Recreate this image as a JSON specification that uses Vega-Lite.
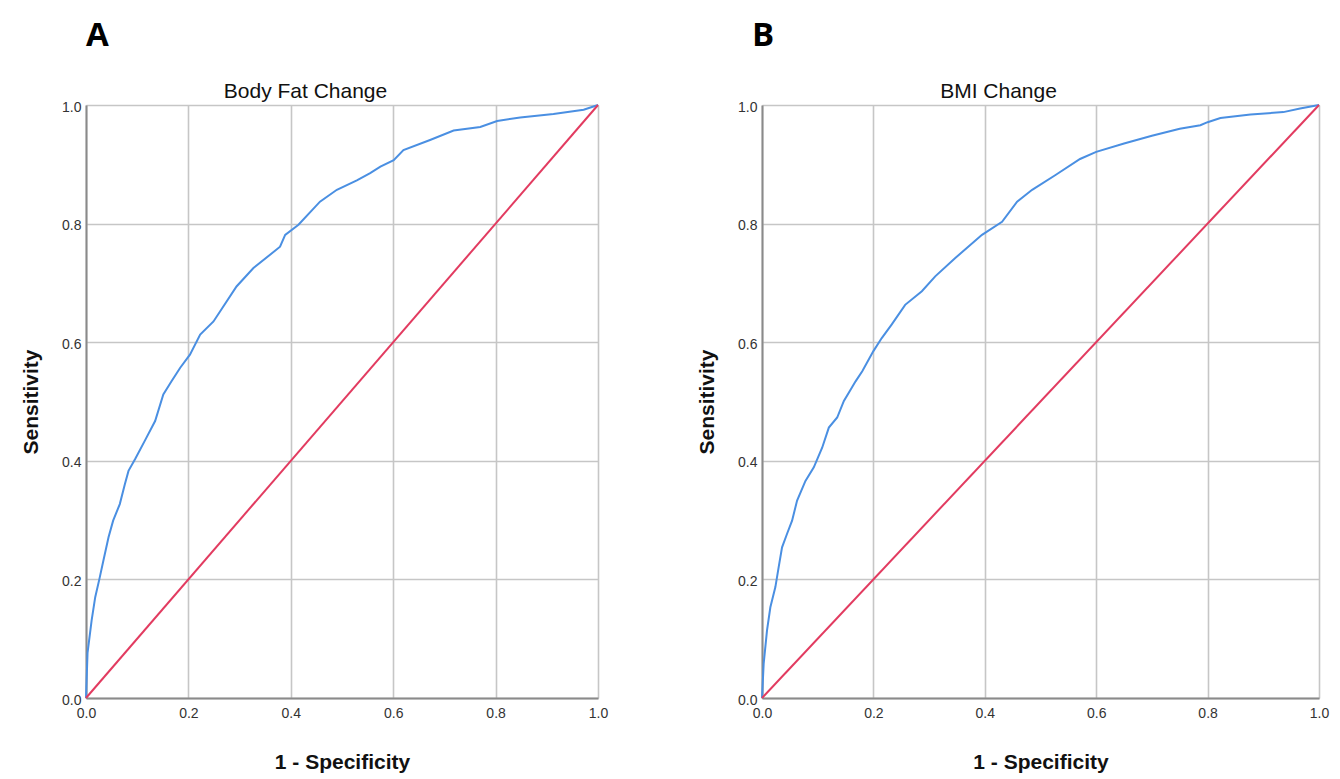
{
  "$schema": "https://vega.github.io/schema/vega-lite/v6.json",
  "background": "white",
  "padding": {"left": 20, "top": 20, "right": 10, "bottom": 5},
  "bounds": "flush",
  "spacing": 164,
  "datasets": {
    "rocA": [
      {"fpr": 0, "tpr": 0}, {"fpr": 0.003, "tpr": 0.076}, {"fpr": 0.011, "tpr": 0.131}, {"fpr": 0.018, "tpr": 0.17},
      {"fpr": 0.026, "tpr": 0.2}, {"fpr": 0.034, "tpr": 0.232}, {"fpr": 0.044, "tpr": 0.271}, {"fpr": 0.053, "tpr": 0.299},
      {"fpr": 0.066, "tpr": 0.327}, {"fpr": 0.076, "tpr": 0.361}, {"fpr": 0.083, "tpr": 0.383}, {"fpr": 0.096, "tpr": 0.403},
      {"fpr": 0.115, "tpr": 0.434}, {"fpr": 0.135, "tpr": 0.467}, {"fpr": 0.151, "tpr": 0.512}, {"fpr": 0.167, "tpr": 0.534},
      {"fpr": 0.184, "tpr": 0.557}, {"fpr": 0.203, "tpr": 0.579}, {"fpr": 0.223, "tpr": 0.613}, {"fpr": 0.249, "tpr": 0.635},
      {"fpr": 0.294, "tpr": 0.694}, {"fpr": 0.327, "tpr": 0.725}, {"fpr": 0.379, "tpr": 0.761}, {"fpr": 0.389, "tpr": 0.781},
      {"fpr": 0.415, "tpr": 0.798}, {"fpr": 0.457, "tpr": 0.837}, {"fpr": 0.49, "tpr": 0.857}, {"fpr": 0.529, "tpr": 0.873},
      {"fpr": 0.555, "tpr": 0.885}, {"fpr": 0.575, "tpr": 0.896}, {"fpr": 0.601, "tpr": 0.907}, {"fpr": 0.62, "tpr": 0.924},
      {"fpr": 0.672, "tpr": 0.941}, {"fpr": 0.718, "tpr": 0.957}, {"fpr": 0.77, "tpr": 0.963}, {"fpr": 0.803, "tpr": 0.973},
      {"fpr": 0.848, "tpr": 0.979}, {"fpr": 0.913, "tpr": 0.985}, {"fpr": 0.972, "tpr": 0.992}, {"fpr": 1, "tpr": 1}
    ],
    "rocB": [
      {"fpr": 0, "tpr": 0}, {"fpr": 0.003, "tpr": 0.058}, {"fpr": 0.009, "tpr": 0.114}, {"fpr": 0.015, "tpr": 0.153},
      {"fpr": 0.024, "tpr": 0.187}, {"fpr": 0.03, "tpr": 0.221}, {"fpr": 0.036, "tpr": 0.254}, {"fpr": 0.045, "tpr": 0.277},
      {"fpr": 0.054, "tpr": 0.299}, {"fpr": 0.063, "tpr": 0.333}, {"fpr": 0.078, "tpr": 0.366}, {"fpr": 0.093, "tpr": 0.389},
      {"fpr": 0.108, "tpr": 0.422}, {"fpr": 0.12, "tpr": 0.456}, {"fpr": 0.135, "tpr": 0.473}, {"fpr": 0.147, "tpr": 0.501},
      {"fpr": 0.159, "tpr": 0.52}, {"fpr": 0.168, "tpr": 0.534}, {"fpr": 0.18, "tpr": 0.551}, {"fpr": 0.2, "tpr": 0.585},
      {"fpr": 0.215, "tpr": 0.607}, {"fpr": 0.233, "tpr": 0.63}, {"fpr": 0.257, "tpr": 0.663}, {"fpr": 0.287, "tpr": 0.686},
      {"fpr": 0.311, "tpr": 0.711}, {"fpr": 0.347, "tpr": 0.742}, {"fpr": 0.395, "tpr": 0.781}, {"fpr": 0.431, "tpr": 0.803},
      {"fpr": 0.458, "tpr": 0.837}, {"fpr": 0.485, "tpr": 0.857}, {"fpr": 0.527, "tpr": 0.882}, {"fpr": 0.571, "tpr": 0.909},
      {"fpr": 0.6, "tpr": 0.921}, {"fpr": 0.65, "tpr": 0.935}, {"fpr": 0.7, "tpr": 0.948}, {"fpr": 0.75, "tpr": 0.96},
      {"fpr": 0.787, "tpr": 0.966}, {"fpr": 0.8, "tpr": 0.971}, {"fpr": 0.823, "tpr": 0.978}, {"fpr": 0.877, "tpr": 0.984},
      {"fpr": 0.936, "tpr": 0.988}, {"fpr": 0.966, "tpr": 0.994}, {"fpr": 1, "tpr": 1}
    ],
    "diag": [{"fpr": 0, "tpr": 0}, {"fpr": 1, "tpr": 1}]
  },
  "hconcat": [
    {
      "width": 512,
      "height": 593,
      "title": {"text": "A", "anchor": "start", "frame": "group", "fontSize": 33, "font": "Open Sans", "fontWeight": "bold", "color": "black", "baseline": "alphabetic", "offset": 1},
      "layer": [
        {
          "data": {"name": "rocA"},
          "mark": {"type": "line", "color": "#4a8fe2", "strokeWidth": 2, "interpolate": "linear"},
          "encoding": {
            "x": {"field": "fpr", "type": "quantitative", "scale": {"domain": [0, 1], "nice": false},
              "axis": {"orient": "bottom", "title": "1 - Specificity", "values": [0, 0.2, 0.4, 0.6, 0.8, 1], "format": ".1f", "titleY": 70, "titleBaseline": "alphabetic"}},
            "y": {"field": "tpr", "type": "quantitative", "scale": {"domain": [0, 1], "nice": false},
              "axis": {"title": "Sensitivity", "values": [0, 0.2, 0.4, 0.6, 0.8, 1], "format": ".1f", "titleX": -49, "titleBaseline": "alphabetic"}}
          }
        },
        {
          "data": {"name": "diag"},
          "mark": {"type": "line", "color": "#e23b60", "strokeWidth": 2},
          "encoding": {
            "x": {"field": "fpr", "type": "quantitative", "scale": {"domain": [0, 1], "nice": false},
              "axis": {"orient": "top", "title": "Body Fat Change", "labels": false, "ticks": false, "domain": false, "grid": false,
                "titleFontSize": 21, "titleFontWeight": "normal", "titleX": 219, "titleY": -8, "titleBaseline": "alphabetic", "titleAlign": "center"}},
            "y": {"field": "tpr", "type": "quantitative"}
          }
        }
      ],
      "resolve": {"axis": {"x": "independent"}}
    },
    {
      "width": 557,
      "height": 593,
      "title": {"text": "B", "anchor": "start", "frame": "group", "fontSize": 33, "font": "Open Sans", "fontWeight": "bold", "color": "black", "baseline": "alphabetic", "offset": 1, "dx": -10},
      "layer": [
        {
          "data": {"name": "rocB"},
          "mark": {"type": "line", "color": "#4a8fe2", "strokeWidth": 2, "interpolate": "linear"},
          "encoding": {
            "x": {"field": "fpr", "type": "quantitative", "scale": {"domain": [0, 1], "nice": false},
              "axis": {"orient": "bottom", "title": "1 - Specificity", "values": [0, 0.2, 0.4, 0.6, 0.8, 1], "format": ".1f", "titleY": 70, "titleBaseline": "alphabetic"}},
            "y": {"field": "tpr", "type": "quantitative", "scale": {"domain": [0, 1], "nice": false},
              "axis": {"title": "Sensitivity", "values": [0, 0.2, 0.4, 0.6, 0.8, 1], "format": ".1f", "titleX": -49, "titleBaseline": "alphabetic"}}
          }
        },
        {
          "data": {"name": "diag"},
          "mark": {"type": "line", "color": "#e23b60", "strokeWidth": 2},
          "encoding": {
            "x": {"field": "fpr", "type": "quantitative", "scale": {"domain": [0, 1], "nice": false},
              "axis": {"orient": "top", "title": "BMI Change", "labels": false, "ticks": false, "domain": false, "grid": false,
                "titleFontSize": 21, "titleFontWeight": "normal", "titleX": 236, "titleY": -8, "titleBaseline": "alphabetic", "titleAlign": "center"}},
            "y": {"field": "tpr", "type": "quantitative"}
          }
        }
      ],
      "resolve": {"axis": {"x": "independent"}}
    }
  ],
  "config": {
    "view": {"stroke": null},
    "font": "Liberation Sans",
    "axis": {
      "grid": true, "gridColor": "#c6c6c6", "gridWidth": 1.6,
      "domainColor": "#8a8a8a", "domainWidth": 2,
      "ticks": false,
      "labelFlush": false,
      "labelFont": "Liberation Sans", "labelFontSize": 14, "labelColor": "#333333",
      "titleFont": "Liberation Sans", "titleFontSize": 21, "titleFontWeight": "bold", "titleColor": "#111111"
    },
    "axisX": {"labelPadding": 8},
    "axisY": {"labelPadding": 5, "labelOffset": 2}
  }
}
